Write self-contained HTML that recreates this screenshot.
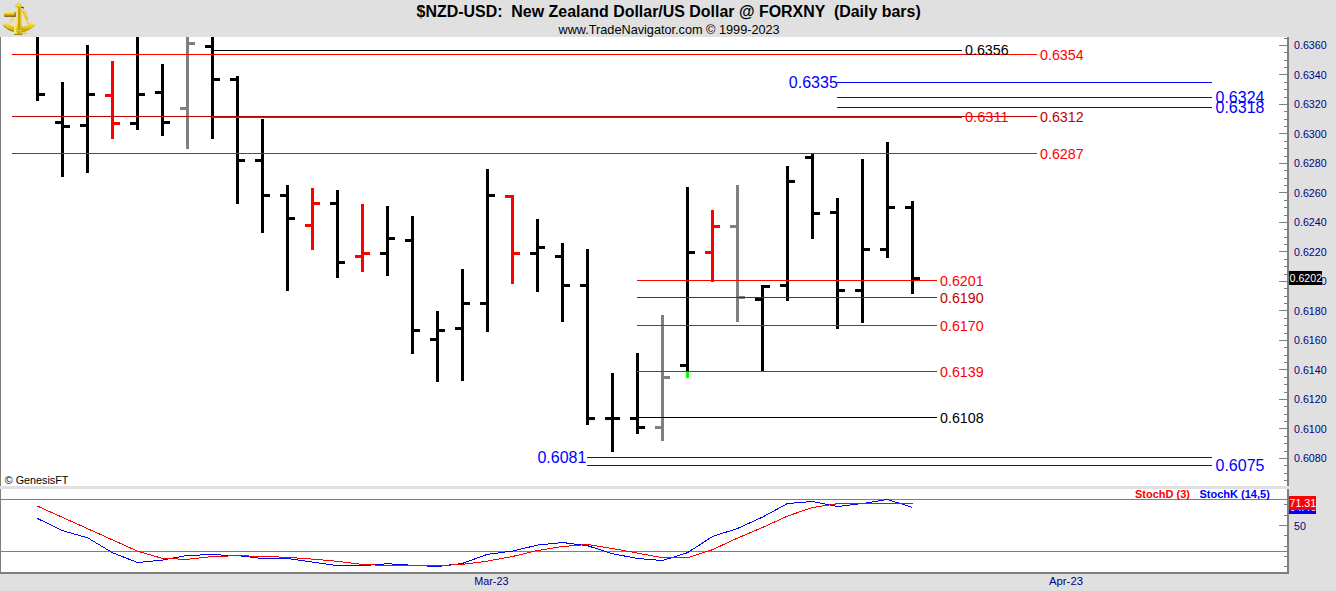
<!DOCTYPE html>
<html lang="en"><head><meta charset="utf-8"><title>$NZD-USD Daily bars</title>
<style>
html,body{margin:0;padding:0;background:#fff;}
body{width:1336px;height:591px;overflow:hidden;position:relative;font-family:"Liberation Sans",Arial,sans-serif;}
svg{position:absolute;left:0;top:0;display:block;}
text{font-family:"Liberation Sans",Arial,sans-serif;}
.c{shape-rendering:crispEdges;}
</style></head><body>
<svg width="1336" height="591" viewBox="0 0 1336 591">
<g class="c">
<rect x="0" y="0" width="1336" height="591" fill="#ffffff"/>
<rect x="0" y="0" width="1336" height="37" fill="#e0e0e0"/>
<rect x="1289" y="37" width="47" height="554" fill="#e0e0e0"/>
<rect x="0" y="574" width="1336" height="17" fill="#e0e0e0"/>
<rect x="0" y="37" width="1" height="537" fill="#7e7e7e"/>
<rect x="1287" y="37" width="2" height="537" fill="#7e7e7e"/>
<rect x="0" y="572" width="1289" height="2" fill="#7e7e7e"/>
<rect x="1" y="499" width="1286" height="1" fill="#7e7e7e"/>
<rect x="1" y="551" width="1286" height="1" fill="#7e7e7e"/>
<rect x="0" y="486" width="1336" height="3" fill="#e0e0e0"/>
<rect x="1284" y="38" width="3" height="1" fill="#7e7e7e"/>
<rect x="1279" y="45" width="8" height="1" fill="#7e7e7e"/>
<rect x="1284" y="52" width="3" height="1" fill="#7e7e7e"/>
<rect x="1284" y="60" width="3" height="1" fill="#7e7e7e"/>
<rect x="1284" y="67" width="3" height="1" fill="#7e7e7e"/>
<rect x="1279" y="74" width="8" height="1" fill="#7e7e7e"/>
<rect x="1284" y="82" width="3" height="1" fill="#7e7e7e"/>
<rect x="1284" y="89" width="3" height="1" fill="#7e7e7e"/>
<rect x="1284" y="97" width="3" height="1" fill="#7e7e7e"/>
<rect x="1279" y="104" width="8" height="1" fill="#7e7e7e"/>
<rect x="1284" y="111" width="3" height="1" fill="#7e7e7e"/>
<rect x="1284" y="119" width="3" height="1" fill="#7e7e7e"/>
<rect x="1284" y="126" width="3" height="1" fill="#7e7e7e"/>
<rect x="1279" y="133" width="8" height="1" fill="#7e7e7e"/>
<rect x="1284" y="141" width="3" height="1" fill="#7e7e7e"/>
<rect x="1284" y="148" width="3" height="1" fill="#7e7e7e"/>
<rect x="1284" y="156" width="3" height="1" fill="#7e7e7e"/>
<rect x="1279" y="163" width="8" height="1" fill="#7e7e7e"/>
<rect x="1284" y="170" width="3" height="1" fill="#7e7e7e"/>
<rect x="1284" y="178" width="3" height="1" fill="#7e7e7e"/>
<rect x="1284" y="185" width="3" height="1" fill="#7e7e7e"/>
<rect x="1279" y="192" width="8" height="1" fill="#7e7e7e"/>
<rect x="1284" y="200" width="3" height="1" fill="#7e7e7e"/>
<rect x="1284" y="207" width="3" height="1" fill="#7e7e7e"/>
<rect x="1284" y="215" width="3" height="1" fill="#7e7e7e"/>
<rect x="1279" y="222" width="8" height="1" fill="#7e7e7e"/>
<rect x="1284" y="229" width="3" height="1" fill="#7e7e7e"/>
<rect x="1284" y="237" width="3" height="1" fill="#7e7e7e"/>
<rect x="1284" y="244" width="3" height="1" fill="#7e7e7e"/>
<rect x="1279" y="251" width="8" height="1" fill="#7e7e7e"/>
<rect x="1284" y="259" width="3" height="1" fill="#7e7e7e"/>
<rect x="1284" y="266" width="3" height="1" fill="#7e7e7e"/>
<rect x="1284" y="274" width="3" height="1" fill="#7e7e7e"/>
<rect x="1279" y="281" width="8" height="1" fill="#7e7e7e"/>
<rect x="1284" y="288" width="3" height="1" fill="#7e7e7e"/>
<rect x="1284" y="296" width="3" height="1" fill="#7e7e7e"/>
<rect x="1284" y="303" width="3" height="1" fill="#7e7e7e"/>
<rect x="1279" y="310" width="8" height="1" fill="#7e7e7e"/>
<rect x="1284" y="318" width="3" height="1" fill="#7e7e7e"/>
<rect x="1284" y="325" width="3" height="1" fill="#7e7e7e"/>
<rect x="1284" y="333" width="3" height="1" fill="#7e7e7e"/>
<rect x="1279" y="340" width="8" height="1" fill="#7e7e7e"/>
<rect x="1284" y="347" width="3" height="1" fill="#7e7e7e"/>
<rect x="1284" y="355" width="3" height="1" fill="#7e7e7e"/>
<rect x="1284" y="362" width="3" height="1" fill="#7e7e7e"/>
<rect x="1279" y="369" width="8" height="1" fill="#7e7e7e"/>
<rect x="1284" y="377" width="3" height="1" fill="#7e7e7e"/>
<rect x="1284" y="384" width="3" height="1" fill="#7e7e7e"/>
<rect x="1284" y="392" width="3" height="1" fill="#7e7e7e"/>
<rect x="1279" y="399" width="8" height="1" fill="#7e7e7e"/>
<rect x="1284" y="406" width="3" height="1" fill="#7e7e7e"/>
<rect x="1284" y="414" width="3" height="1" fill="#7e7e7e"/>
<rect x="1284" y="421" width="3" height="1" fill="#7e7e7e"/>
<rect x="1279" y="428" width="8" height="1" fill="#7e7e7e"/>
<rect x="1284" y="436" width="3" height="1" fill="#7e7e7e"/>
<rect x="1284" y="443" width="3" height="1" fill="#7e7e7e"/>
<rect x="1284" y="451" width="3" height="1" fill="#7e7e7e"/>
<rect x="1279" y="458" width="8" height="1" fill="#7e7e7e"/>
<rect x="1284" y="465" width="3" height="1" fill="#7e7e7e"/>
<rect x="1284" y="473" width="3" height="1" fill="#7e7e7e"/>
<rect x="1284" y="480" width="3" height="1" fill="#7e7e7e"/>
<rect x="1284" y="566" width="3" height="1" fill="#7e7e7e"/>
<rect x="1284" y="556" width="3" height="1" fill="#7e7e7e"/>
<rect x="1284" y="546" width="3" height="1" fill="#7e7e7e"/>
<rect x="1284" y="535" width="3" height="1" fill="#7e7e7e"/>
<rect x="1279" y="525" width="8" height="1" fill="#7e7e7e"/>
<rect x="1284" y="515" width="3" height="1" fill="#7e7e7e"/>
<rect x="1284" y="504" width="3" height="1" fill="#7e7e7e"/>
<rect x="36" y="37" width="3" height="64" fill="#000000"/>
<rect x="39" y="93" width="6" height="3" fill="#000000"/>
<rect x="61" y="82" width="3" height="95" fill="#000000"/>
<rect x="55" y="121" width="6" height="3" fill="#000000"/>
<rect x="64" y="125" width="6" height="3" fill="#000000"/>
<rect x="86" y="45" width="3" height="128" fill="#000000"/>
<rect x="80" y="124" width="6" height="3" fill="#000000"/>
<rect x="89" y="93" width="6" height="3" fill="#000000"/>
<rect x="111" y="61" width="3" height="78" fill="#ff0000"/>
<rect x="105" y="94" width="6" height="3" fill="#ff0000"/>
<rect x="114" y="122" width="6" height="3" fill="#ff0000"/>
<rect x="136" y="37" width="3" height="93" fill="#000000"/>
<rect x="130" y="122" width="6" height="3" fill="#000000"/>
<rect x="139" y="93" width="6" height="3" fill="#000000"/>
<rect x="161" y="64" width="3" height="72" fill="#000000"/>
<rect x="155" y="91" width="6" height="3" fill="#000000"/>
<rect x="164" y="121" width="6" height="3" fill="#000000"/>
<rect x="186" y="37" width="3" height="112" fill="#808080"/>
<rect x="180" y="107" width="6" height="3" fill="#808080"/>
<rect x="189" y="42" width="6" height="3" fill="#808080"/>
<rect x="211" y="37" width="3" height="102" fill="#000000"/>
<rect x="205" y="45" width="6" height="3" fill="#000000"/>
<rect x="214" y="78" width="6" height="3" fill="#000000"/>
<rect x="236" y="76" width="3" height="128" fill="#000000"/>
<rect x="230" y="78" width="6" height="3" fill="#000000"/>
<rect x="239" y="159" width="6" height="3" fill="#000000"/>
<rect x="261" y="119" width="3" height="114" fill="#000000"/>
<rect x="255" y="159" width="6" height="3" fill="#000000"/>
<rect x="264" y="194" width="6" height="3" fill="#000000"/>
<rect x="286" y="185" width="3" height="106" fill="#000000"/>
<rect x="280" y="194" width="6" height="3" fill="#000000"/>
<rect x="289" y="217" width="6" height="3" fill="#000000"/>
<rect x="311" y="188" width="3" height="62" fill="#ff0000"/>
<rect x="305" y="224" width="6" height="3" fill="#ff0000"/>
<rect x="314" y="202" width="6" height="3" fill="#ff0000"/>
<rect x="336" y="190" width="3" height="88" fill="#000000"/>
<rect x="330" y="202" width="6" height="3" fill="#000000"/>
<rect x="339" y="261" width="6" height="3" fill="#000000"/>
<rect x="361" y="204" width="3" height="68" fill="#ff0000"/>
<rect x="355" y="255" width="6" height="3" fill="#ff0000"/>
<rect x="364" y="252" width="6" height="3" fill="#ff0000"/>
<rect x="386" y="206" width="3" height="70" fill="#000000"/>
<rect x="380" y="252" width="6" height="3" fill="#000000"/>
<rect x="389" y="237" width="6" height="3" fill="#000000"/>
<rect x="411" y="216" width="3" height="138" fill="#000000"/>
<rect x="405" y="239" width="6" height="3" fill="#000000"/>
<rect x="414" y="329" width="6" height="3" fill="#000000"/>
<rect x="436" y="311" width="3" height="71" fill="#000000"/>
<rect x="430" y="338" width="6" height="3" fill="#000000"/>
<rect x="439" y="329" width="6" height="3" fill="#000000"/>
<rect x="461" y="269" width="3" height="112" fill="#000000"/>
<rect x="455" y="327" width="6" height="3" fill="#000000"/>
<rect x="464" y="302" width="6" height="3" fill="#000000"/>
<rect x="486" y="169" width="3" height="163" fill="#000000"/>
<rect x="480" y="302" width="6" height="3" fill="#000000"/>
<rect x="489" y="194" width="6" height="3" fill="#000000"/>
<rect x="511" y="195" width="3" height="89" fill="#ff0000"/>
<rect x="505" y="195" width="6" height="3" fill="#ff0000"/>
<rect x="514" y="252" width="6" height="3" fill="#ff0000"/>
<rect x="536" y="219" width="3" height="73" fill="#000000"/>
<rect x="530" y="252" width="6" height="3" fill="#000000"/>
<rect x="539" y="246" width="6" height="3" fill="#000000"/>
<rect x="561" y="243" width="3" height="79" fill="#000000"/>
<rect x="555" y="255" width="6" height="3" fill="#000000"/>
<rect x="564" y="284" width="6" height="3" fill="#000000"/>
<rect x="586" y="249" width="3" height="176" fill="#000000"/>
<rect x="580" y="284" width="6" height="3" fill="#000000"/>
<rect x="589" y="417" width="6" height="3" fill="#000000"/>
<rect x="611" y="373" width="3" height="79" fill="#000000"/>
<rect x="605" y="417" width="6" height="3" fill="#000000"/>
<rect x="614" y="417" width="6" height="3" fill="#000000"/>
<rect x="636" y="353" width="3" height="81" fill="#000000"/>
<rect x="630" y="417" width="6" height="3" fill="#000000"/>
<rect x="639" y="426" width="6" height="3" fill="#000000"/>
<rect x="661" y="315" width="3" height="126" fill="#808080"/>
<rect x="655" y="426" width="6" height="3" fill="#808080"/>
<rect x="664" y="376" width="6" height="3" fill="#808080"/>
<rect x="686" y="187" width="3" height="185" fill="#000000"/>
<rect x="680" y="364" width="6" height="3" fill="#000000"/>
<rect x="689" y="251" width="6" height="3" fill="#000000"/>
<rect x="711" y="210" width="3" height="72" fill="#ff0000"/>
<rect x="705" y="251" width="6" height="3" fill="#ff0000"/>
<rect x="714" y="225" width="6" height="3" fill="#ff0000"/>
<rect x="736" y="185" width="3" height="137" fill="#808080"/>
<rect x="730" y="225" width="6" height="3" fill="#808080"/>
<rect x="739" y="296" width="6" height="3" fill="#808080"/>
<rect x="761" y="285" width="3" height="87" fill="#000000"/>
<rect x="755" y="298" width="6" height="3" fill="#000000"/>
<rect x="764" y="285" width="6" height="3" fill="#000000"/>
<rect x="786" y="166" width="3" height="135" fill="#000000"/>
<rect x="780" y="284" width="6" height="3" fill="#000000"/>
<rect x="789" y="180" width="6" height="3" fill="#000000"/>
<rect x="811" y="154" width="3" height="85" fill="#000000"/>
<rect x="805" y="156" width="6" height="3" fill="#000000"/>
<rect x="814" y="212" width="6" height="3" fill="#000000"/>
<rect x="836" y="198" width="3" height="131" fill="#000000"/>
<rect x="830" y="211" width="6" height="3" fill="#000000"/>
<rect x="839" y="289" width="6" height="3" fill="#000000"/>
<rect x="861" y="159" width="3" height="164" fill="#000000"/>
<rect x="855" y="289" width="6" height="3" fill="#000000"/>
<rect x="864" y="248" width="6" height="3" fill="#000000"/>
<rect x="886" y="142" width="3" height="116" fill="#000000"/>
<rect x="880" y="248" width="6" height="3" fill="#000000"/>
<rect x="889" y="206" width="6" height="3" fill="#000000"/>
<rect x="911" y="201" width="3" height="93" fill="#000000"/>
<rect x="905" y="206" width="6" height="3" fill="#000000"/>
<rect x="914" y="277" width="6" height="3" fill="#000000"/>
<rect x="686" y="372" width="3" height="6" fill="#00ff00"/>
<rect x="213" y="50" width="749" height="1" fill="#000000"/>
<rect x="12" y="54" width="1025" height="1" fill="#ff0000"/>
<rect x="837" y="82" width="375" height="1" fill="#0000ff"/>
<rect x="837" y="97" width="375" height="1" fill="#0000ff"/>
<rect x="837" y="107" width="375" height="1" fill="#0000ff"/>
<rect x="12" y="116" width="1025" height="1" fill="#c00000"/>
<rect x="212" y="117" width="750" height="1" fill="#ff0000"/>
<rect x="12" y="153" width="1025" height="1" fill="#ff0000"/>
<rect x="637" y="280" width="300" height="1" fill="#ff0000"/>
<rect x="637" y="297" width="300" height="1" fill="#c00000"/>
<rect x="637" y="325" width="300" height="1" fill="#ff0000"/>
<rect x="637" y="371" width="300" height="1" fill="#ff0000"/>
<rect x="637" y="417" width="300" height="1" fill="#000000"/>
<rect x="587" y="457" width="625" height="1" fill="#0000ff"/>
<rect x="587" y="465" width="625" height="1" fill="#0000ff"/>
<rect x="1289" y="271" width="33" height="14" fill="#000000"/>
</g>
<polyline class="c" points="37.5,518.5 62.5,530.7 87.5,537.7 112.5,552.7 137.5,562.5 162.5,560.1 187.5,555.3 212.5,554.7 237.5,555.6 262.5,558.5 287.5,558.5 312.5,562.1 337.5,565.7 362.5,565.7 387.5,563.7 412.5,565.3 437.5,566.5 462.5,563.4 487.5,554.3 512.5,551.1 537.5,545.1 562.5,542.5 587.5,545.7 612.5,553.7 637.5,558.5 662.5,560.5 687.5,552.7 712.5,536.5 737.5,528.5 762.5,517.1 787.5,503.5 812.5,501.5 837.5,506.5 862.5,503.5 887.5,499.5 912.5,507.5" fill="none" stroke="#0000ff" stroke-width="1"/>
<polyline class="c" points="37.5,506.1 62.5,517.4 87.5,528.6 112.5,539.9 137.5,551.1 162.5,558.5 187.5,559.3 212.5,556.5 237.5,555.7 262.5,556.4 287.5,557.3 312.5,559.1 337.5,561.3 362.5,564.4 387.5,565.6 412.5,565.7 437.5,565.7 462.5,564.4 487.5,561.1 512.5,556.5 537.5,550.5 562.5,546.5 587.5,544.5 612.5,548.5 637.5,553.1 662.5,557.7 687.5,557.7 712.5,549.7 737.5,538.1 762.5,527.5 787.5,516.1 812.5,507.5 837.5,503.7 862.5,503.5 887.5,503.5 912.5,503.5" fill="none" stroke="#ff0000" stroke-width="1"/>
<text x="965" y="55.1" font-size="14.9" fill="#000000" text-anchor="start" textLength="43.6" lengthAdjust="spacingAndGlyphs">0.6356</text>
<text x="1040" y="59.6" font-size="14.9" fill="#ff0000" text-anchor="start" textLength="43.6" lengthAdjust="spacingAndGlyphs">0.6354</text>
<text x="837.8" y="87.6" font-size="16" fill="#0000ff" text-anchor="end">0.6335</text>
<text x="1215.5" y="102.6" font-size="16" fill="#0000ff" text-anchor="start">0.6324</text>
<text x="1215.5" y="112.6" font-size="16" fill="#0000ff" text-anchor="start">0.6318</text>
<text x="965" y="122.1" font-size="14.9" fill="#ff0000" text-anchor="start" textLength="43.6" lengthAdjust="spacingAndGlyphs">0.6311</text>
<text x="1040" y="121.5" font-size="14.9" fill="#c00000" text-anchor="start" textLength="43.6" lengthAdjust="spacingAndGlyphs">0.6312</text>
<text x="1040" y="158.6" font-size="14.9" fill="#ff0000" text-anchor="start" textLength="43.6" lengthAdjust="spacingAndGlyphs">0.6287</text>
<text x="940" y="285.6" font-size="14.9" fill="#ff0000" text-anchor="start" textLength="43.6" lengthAdjust="spacingAndGlyphs">0.6201</text>
<text x="940" y="302.6" font-size="14.9" fill="#c00000" text-anchor="start" textLength="43.6" lengthAdjust="spacingAndGlyphs">0.6190</text>
<text x="940" y="330.6" font-size="14.9" fill="#ff0000" text-anchor="start" textLength="43.6" lengthAdjust="spacingAndGlyphs">0.6170</text>
<text x="940" y="376.6" font-size="14.9" fill="#ff0000" text-anchor="start" textLength="43.6" lengthAdjust="spacingAndGlyphs">0.6139</text>
<text x="940" y="422.6" font-size="14.9" fill="#000000" text-anchor="start" textLength="43.6" lengthAdjust="spacingAndGlyphs">0.6108</text>
<text x="586.4" y="462.6" font-size="16" fill="#0000ff" text-anchor="end">0.6081</text>
<text x="1215.5" y="470.6" font-size="16" fill="#0000ff" text-anchor="start">0.6075</text>
<text x="1294" y="49.4" font-size="10.67" fill="#000080">0.6360</text>
<text x="1294" y="78.9" font-size="10.67" fill="#000080">0.6340</text>
<text x="1294" y="108.4" font-size="10.67" fill="#000080">0.6320</text>
<text x="1294" y="137.9" font-size="10.67" fill="#000080">0.6300</text>
<text x="1294" y="167.4" font-size="10.67" fill="#000080">0.6280</text>
<text x="1294" y="196.9" font-size="10.67" fill="#000080">0.6260</text>
<text x="1294" y="226.4" font-size="10.67" fill="#000080">0.6240</text>
<text x="1294" y="255.9" font-size="10.67" fill="#000080">0.6220</text>
<text x="1294" y="285.4" font-size="10.67" fill="#000080">0.6200</text>
<text x="1294" y="314.9" font-size="10.67" fill="#000080">0.6180</text>
<text x="1294" y="344.4" font-size="10.67" fill="#000080">0.6160</text>
<text x="1294" y="373.9" font-size="10.67" fill="#000080">0.6140</text>
<text x="1294" y="403.4" font-size="10.67" fill="#000080">0.6120</text>
<text x="1294" y="432.9" font-size="10.67" fill="#000080">0.6100</text>
<text x="1294" y="462.4" font-size="10.67" fill="#000080">0.6080</text>
<rect class="c" x="1289" y="271" width="33" height="14" fill="#000000"/>
<text x="1289.5" y="282" font-size="10.67" fill="#ffffff">0.6202</text>
<text x="1294" y="529.5" font-size="10.67" fill="#000080">50</text>
<rect class="c" x="1289" y="500" width="27" height="14" fill="#0000ff"/>
<text x="1289.5" y="511" font-size="10.67" fill="#ffffff">64.46</text>
<rect class="c" x="1289" y="496" width="27" height="14" fill="#ff0000"/>
<text x="1289.5" y="507" font-size="10.67" fill="#ffffff">71.31</text>
<text x="1135" y="497.8" font-size="11" font-weight="bold" fill="#ff0000">StochD (3)</text>
<text x="1199.5" y="497.8" font-size="11" font-weight="bold" fill="#0000ff">StochK (14,5)</text>
<text x="4.7" y="484" font-size="10.8" fill="#000000">© GenesisFT</text>
<text x="474.2" y="585" font-size="10.8" fill="#000080">Mar-23</text>
<text x="1049" y="585" font-size="10.8" textLength="34" lengthAdjust="spacingAndGlyphs" fill="#000080">Apr-23</text>
<text x="416.6" y="17" font-size="15.95" font-weight="bold" fill="#000000" style="white-space:pre">$NZD-USD:  New Zealand Dollar/US Dollar @ FORXNY  (Daily bars)</text>
<text x="558.5" y="34" font-size="12.7" fill="#000000">www.TradeNavigator.com © 1999-2023</text>
<g id="logo">
<defs>
<linearGradient id="gTel" x1="0" y1="0" x2="0" y2="1"><stop offset="0" stop-color="#fff48c"/><stop offset="0.3" stop-color="#f2d424"/><stop offset="0.7" stop-color="#c09a02"/><stop offset="1" stop-color="#4a3a00"/></linearGradient>
<linearGradient id="gArm" x1="0" y1="0" x2="1" y2="0"><stop offset="0" stop-color="#f9e866"/><stop offset="0.4" stop-color="#eccb1a"/><stop offset="0.62" stop-color="#b89200"/><stop offset="0.8" stop-color="#e6c416"/><stop offset="1" stop-color="#c9a608"/></linearGradient>
<linearGradient id="gArc" x1="0" y1="0" x2="0" y2="1"><stop offset="0" stop-color="#fbe95c"/><stop offset="0.5" stop-color="#ebca16"/><stop offset="1" stop-color="#b08e00"/></linearGradient>
</defs>
<path d="M3.2 24.8 A20.8 20.8 0 0 0 35 24.8 L31.8 21.9 A19.3 19.3 0 0 1 6.1 22.2 Z" fill="url(#gArc)"/>
<path d="M3.3 25.4 A20.8 20.8 0 0 0 13.6 31.6" fill="none" stroke="#3c2e00" stroke-width="0.8" opacity="0.7"/>
<path d="M24 31.6 A20.8 20.8 0 0 0 34.6 25.6" fill="none" stroke="#a88800" stroke-width="0.7" opacity="0.8"/>
<path d="M16.2 12 L10.4 22.6" stroke="#ecd03a" stroke-width="1.2" fill="none"/>
<path d="M21.6 9 L28.2 23.6" stroke="#e9c91c" stroke-width="1.7" fill="none"/>
<path d="M10.8 21.8 Q19.3 17.2 27.8 21.8" stroke="#f6e680" stroke-width="1" fill="none"/>
<path d="M23.8 11 L26.4 12.4 L26 16.2 L24.6 15.2 Z" fill="#f5e060" stroke="#d2b010" stroke-width="0.5"/>
<path d="M26 16.4 L28.2 17.4 L27.8 19.6 L26.4 18.8 Z" fill="#f2da50" stroke="#d2b010" stroke-width="0.4"/>
<path d="M20.2 6.4 L24 8.2" stroke="#201800" stroke-width="1"/>
<rect x="4" y="11.9" width="11.8" height="4.9" rx="1" fill="url(#gTel)"/>
<rect x="14.5" y="11.9" width="1.3" height="4.9" fill="#3a2c00" opacity="0.45"/>
<path d="M16.9 7 L21.2 7 L21.4 24.6 L22.2 27 L22.4 34.4 L13.8 34.4 L14 27 L16.6 24.6 Z" fill="url(#gArm)"/>
<path d="M17.6 7.6 L17.4 24.6 L15 27.6 L14.8 33.6" stroke="#fff8a8" stroke-width="0.7" fill="none" opacity="0.85"/>
<path d="M15.4 5.6 L18.6 2.9 L21.9 5.4 L21.4 7.1 L16 7.1 Z" fill="#efd226" stroke="#c8a60a" stroke-width="0.4"/>
<path d="M16.6 4.8 L20.6 4.8" stroke="#fff6a0" stroke-width="0.7" opacity="0.8"/>
<rect x="16.1" y="29.3" width="5.2" height="2.2" fill="#c9a60a" opacity="0.8"/>
<path d="M16.2 30.6 L21.2 30.6" stroke="#fff4a0" stroke-width="0.6" opacity="0.8"/>
<path d="M14 34.5 L22.4 34.5" stroke="#8f7200" stroke-width="0.8"/>
<path d="M22.2 33.4 L26 33.4" stroke="#e4c41a" stroke-width="1.2"/>
<rect x="25.4" y="32.2" width="1.4" height="2.5" fill="#f2d840"/>
</g>
</svg>
</body></html>
